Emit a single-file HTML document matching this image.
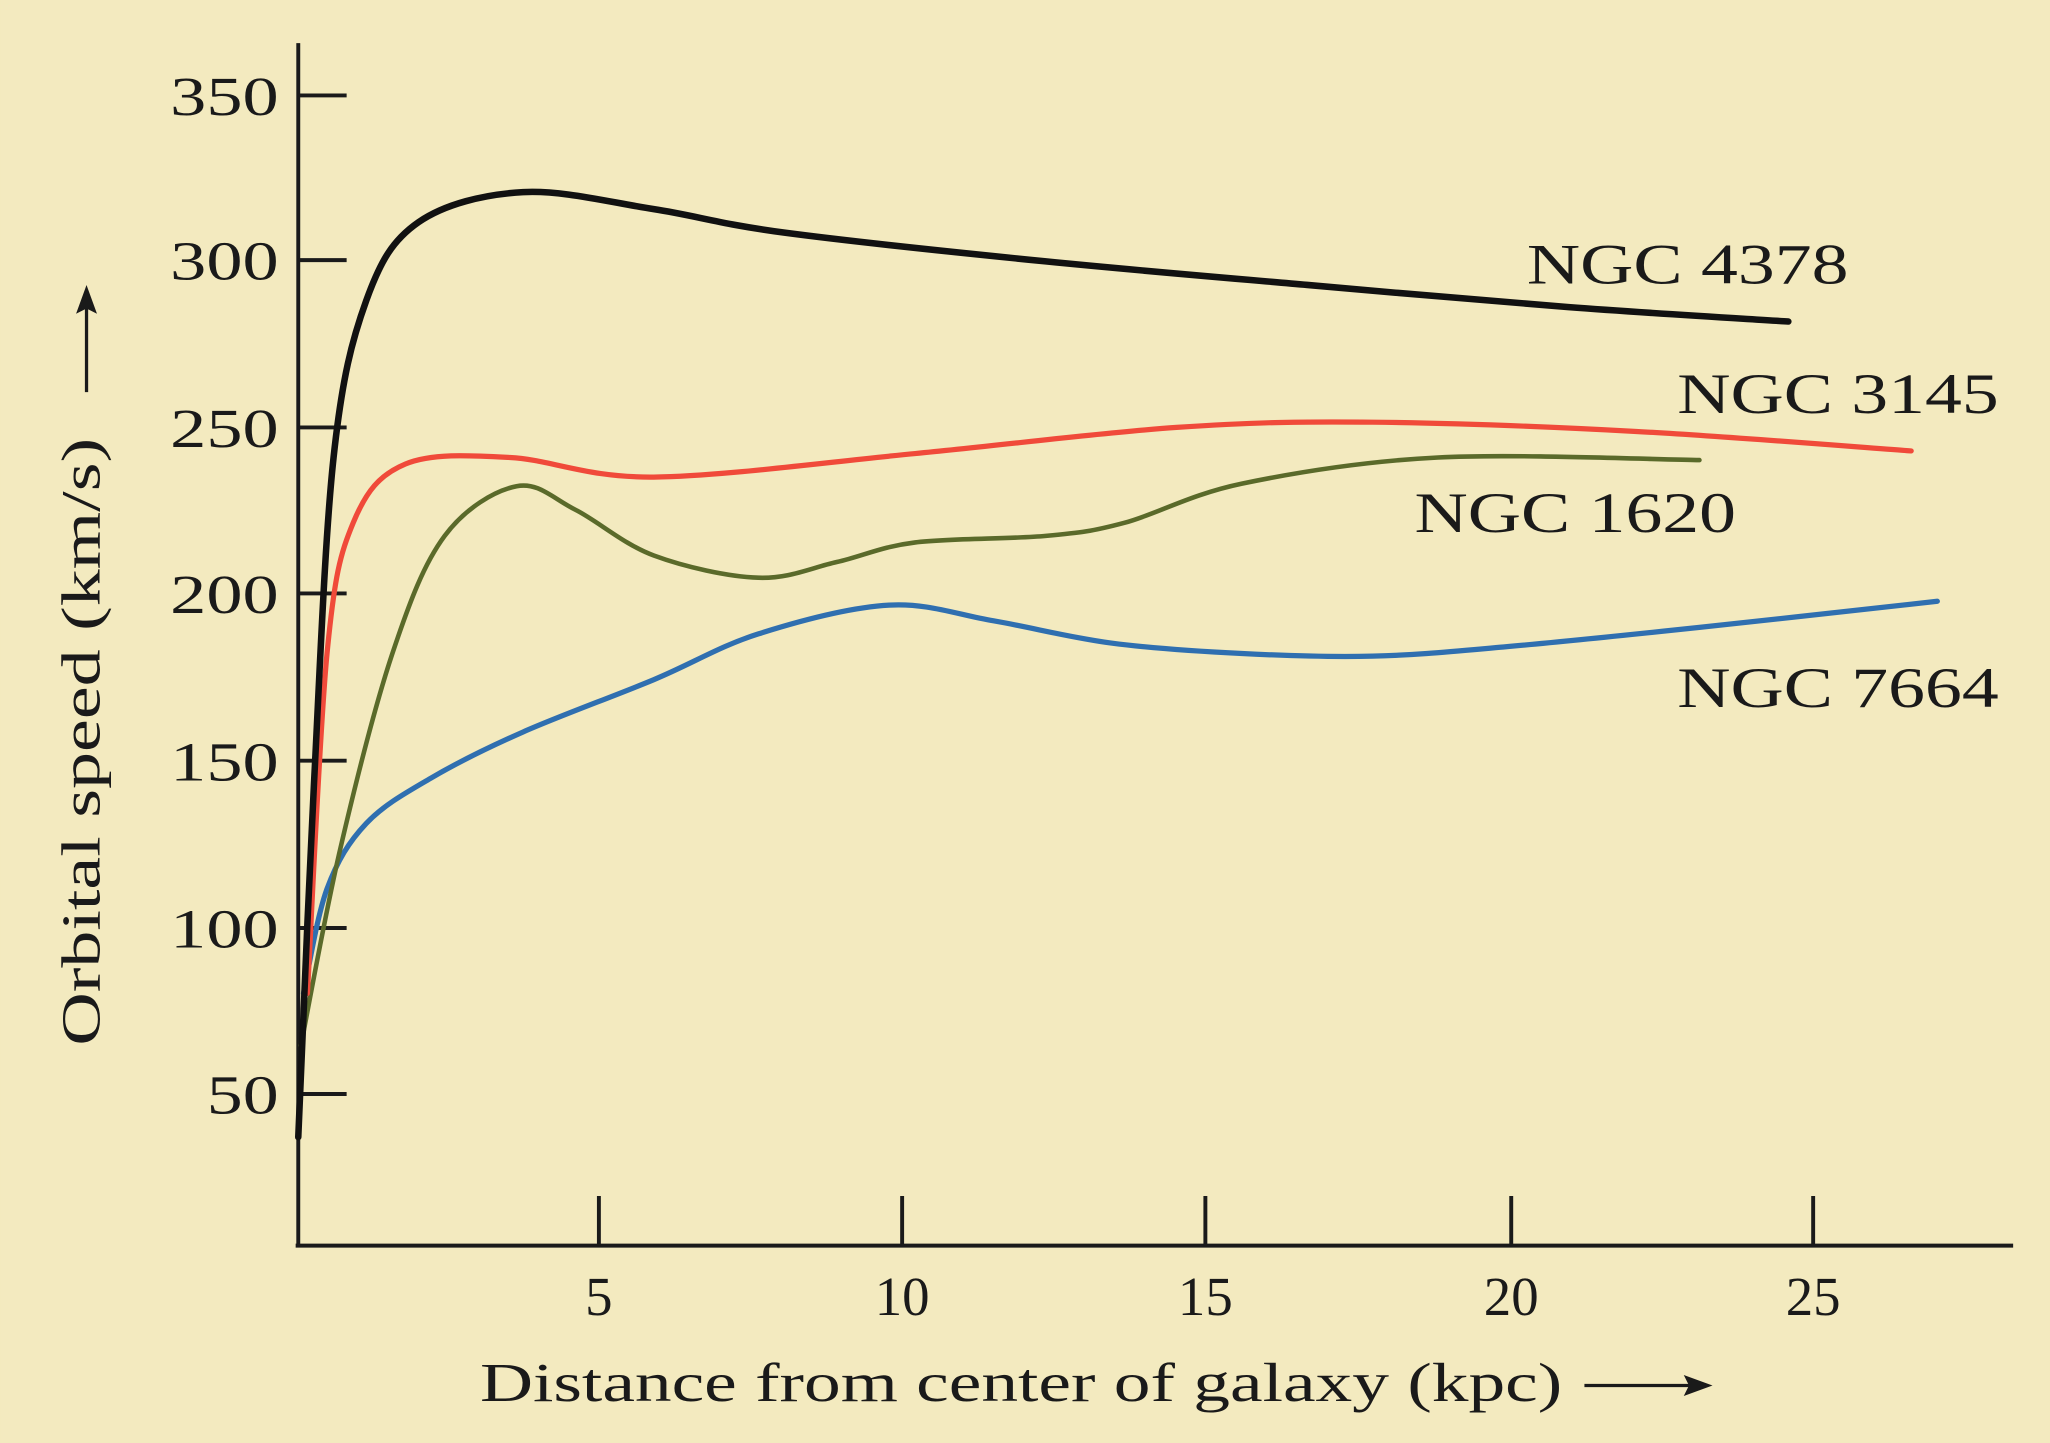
<!DOCTYPE html>
<html><head><meta charset="utf-8"><style>
html,body{margin:0;padding:0;background:#f3eabf;}
svg{display:block}
text{font-family:"Liberation Serif",serif;fill:#1a1a1a}
</style></head><body>
<svg id="s" width="2050" height="1443" viewBox="0 0 1568 1104" xmlns="http://www.w3.org/2000/svg">
<rect width="1568" height="1104" fill="#f3eabf"/>
<g stroke="#1a1a1a" stroke-width="3" fill="none">
<line x1="228" y1="33" x2="228" y2="954"/>
<line x1="226" y1="953" x2="1540" y2="953"/>
<line x1="228" y1="73" x2="265" y2="73"/>
<line x1="228" y1="199" x2="265" y2="199"/>
<line x1="228" y1="327" x2="265" y2="327"/>
<line x1="228" y1="454" x2="265" y2="454"/>
<line x1="228" y1="582" x2="265" y2="582"/>
<line x1="228" y1="710" x2="265" y2="710"/>
<line x1="228" y1="837" x2="265" y2="837"/>
<line x1="458" y1="953" x2="458" y2="915"/>
<line x1="690" y1="953" x2="690" y2="915"/>
<line x1="922" y1="953" x2="922" y2="915"/>
<line x1="1156" y1="953" x2="1156" y2="915"/>
<line x1="1387" y1="953" x2="1387" y2="915"/>
</g>
<g font-size="42">
<text x="130" y="88" textLength="83" lengthAdjust="spacingAndGlyphs">350</text>
<text x="130" y="214" textLength="83" lengthAdjust="spacingAndGlyphs">300</text>
<text x="130" y="342" textLength="83" lengthAdjust="spacingAndGlyphs">250</text>
<text x="130" y="469" textLength="83" lengthAdjust="spacingAndGlyphs">200</text>
<text x="130" y="597" textLength="83" lengthAdjust="spacingAndGlyphs">150</text>
<text x="130" y="725" textLength="83" lengthAdjust="spacingAndGlyphs">100</text>
<text x="158" y="852" textLength="55" lengthAdjust="spacingAndGlyphs">50</text>
</g>
<g font-size="42" text-anchor="middle">
<text x="458" y="1006">5</text><text x="690" y="1006">10</text><text x="922" y="1006">15</text>
<text x="1156" y="1006">20</text><text x="1387" y="1006">25</text>
</g>
<text x="367" y="1072" font-size="42" textLength="828" lengthAdjust="spacingAndGlyphs">Distance from center of  galaxy (kpc)</text>
<line x1="1212" y1="1060" x2="1300" y2="1060" stroke="#1a1a1a" stroke-width="2.5"/>
<path d="M1310 1060 L1288 1052 L1292 1060 L1288 1068Z" fill="#1a1a1a"/>
<text transform="translate(76,800) rotate(-90)" font-size="42" textLength="465" lengthAdjust="spacingAndGlyphs">Orbital speed (km/s)</text>
<line x1="66" y1="300" x2="66" y2="228" stroke="#1a1a1a" stroke-width="2.5"/>
<path d="M66 218 L58 240 L66 236 L74 240Z" fill="#1a1a1a"/>
<g font-size="44">
<text x="1168" y="217" textLength="246" lengthAdjust="spacingAndGlyphs">NGC 4378</text>
<text x="1283" y="316" textLength="246" lengthAdjust="spacingAndGlyphs">NGC 3145</text>
<text x="1082" y="407" textLength="246" lengthAdjust="spacingAndGlyphs">NGC 1620</text>
<text x="1283" y="541" textLength="246" lengthAdjust="spacingAndGlyphs">NGC 7664</text>
</g>
<g id="curves" fill="none" stroke-linecap="round"></g>
</svg>
<script>
function cr(p){let d="M"+p[0][0]+" "+p[0][1];for(let i=0;i<p.length-1;i++){const a=p[i-1]||p[i],b=p[i],c=p[i+1],e=p[i+2]||c;
d+=` C${b[0]+(c[0]-a[0])/6} ${b[1]+(c[1]-a[1])/6} ${c[0]-(e[0]-b[0])/6} ${c[1]-(e[1]-b[1])/6} ${c[0]} ${c[1]}`;}return d;}
const S=[
["#2f6fb0",4,[[232,760],[250,680],[280,630],[330,595],[400,560],[500,520],[580,485],[680,463],[760,475],[850,492],[950,500],[1050,502],[1150,495],[1300,480],[1482,460]]],
["#5a6a2a",3.5,[[230,800],[260,650],[300,500],[340,410],[395,372],[440,390],[500,425],[580,442],[640,430],[700,415],[800,410],[860,400],[950,370],[1100,350],[1300,352]]],
["#f04a3a",4,[[235,760],[250,500],[270,400],[310,355],[390,350],[500,365],[700,347],[900,327],[1050,323],[1250,330],[1462,345]]],
["#111",5,[[228,870],[240,600],[255,350],[280,230],[320,170],[400,147],[500,160],[600,178],[800,200],[1000,218],[1200,235],[1368,246]]]];
const g=document.getElementById("curves");
S.forEach(s=>{const p=document.createElementNS("http://www.w3.org/2000/svg","path");p.setAttribute("d",cr(s[2]));p.setAttribute("stroke",s[0]);p.setAttribute("stroke-width",s[1]);g.appendChild(p);});
</script>
</body></html>
